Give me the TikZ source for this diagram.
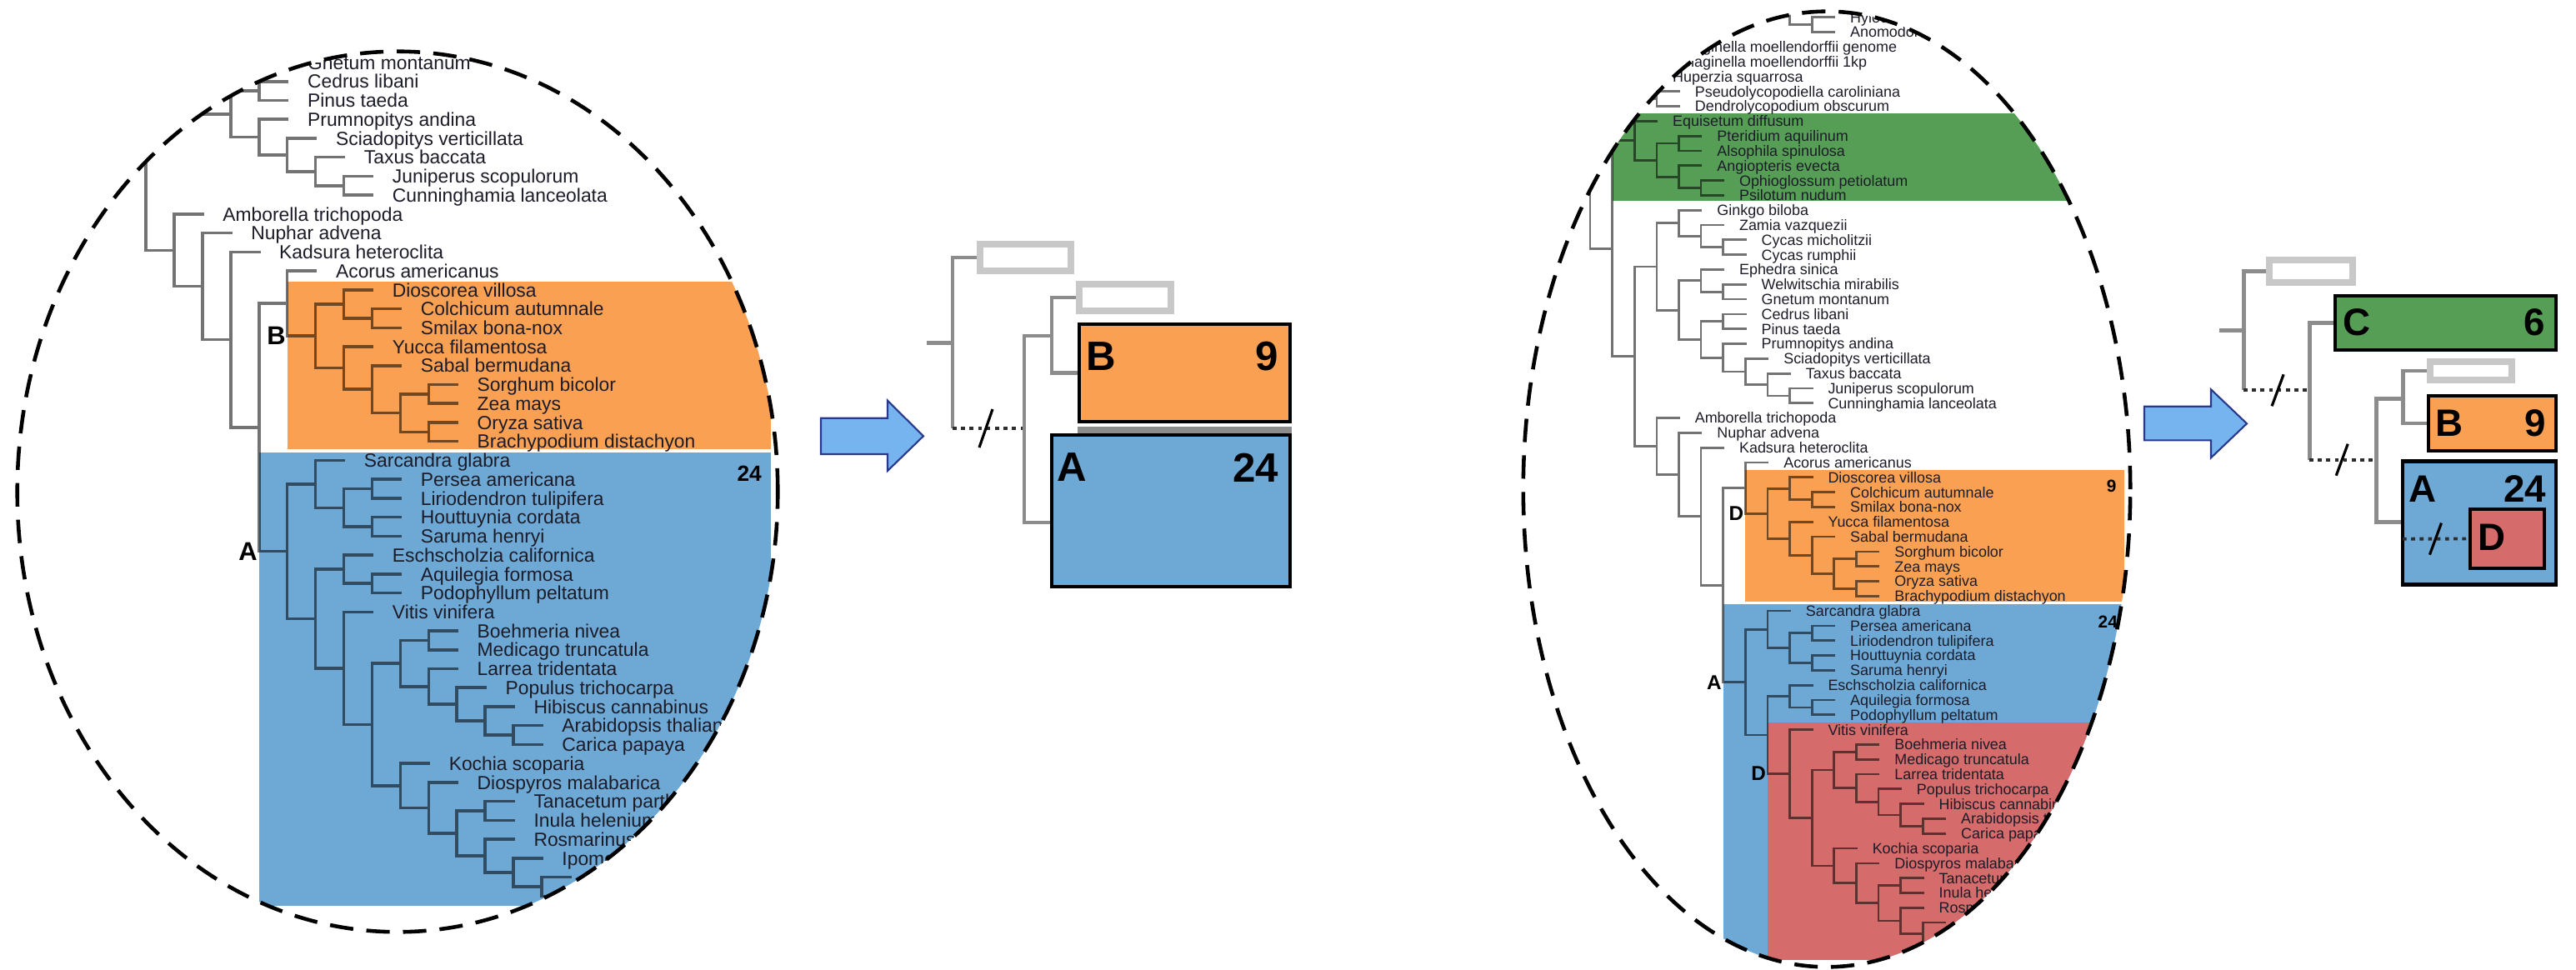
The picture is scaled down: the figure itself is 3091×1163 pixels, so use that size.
\documentclass[tikz,border=0pt]{standalone}
\usepackage{fontspec}
\setmainfont{Liberation Sans}
\usetikzlibrary{calc,backgrounds}
\definecolor{cOr}{RGB}{250,160,82}
\definecolor{cBl}{RGB}{110,168,213}
\definecolor{cGr}{RGB}{86,158,86}
\definecolor{cRd}{RGB}{213,107,107}
\definecolor{cAr}{RGB}{117,180,238}
\definecolor{cArB}{RGB}{40,56,140}
\definecolor{cGy}{RGB}{140,140,140}
\definecolor{cLg}{RGB}{200,200,200}
\definecolor{cTx}{RGB}{28,28,40}
\definecolor{cDk}{RGB}{45,45,45}

\newcommand\treelines{%
\path[br] foreach \kp/\j in {10/0,10/1,2/2,2/3,2/4,3/5,3/6,2/7,4/8,4/9,4/10,5/11,5/12,4/13,5/14,6/15,6/16,5/17,6/18,6/19,6/20,6/21,6/22,7/23,8/24,9/25,9/26,3/27,4/28,5/29,7/30,9/31,10/32,10/33,9/34,10/35,12/36,12/37,12/38,12/39,8/40,10/41,10/42,10/43,10/44,9/45,10/46,10/47,9/48,12/49,12/50,12/51,13/52,14/53,15/54,15/55,11/56,12/57,14/58,14/59,14/60,15/61,16/62,16/63} {(\kp,\j) -- ++(1,0)}
 foreach \k/\t/\u in {10/0/1,9/-1.5/0.5,3/5/6,2/4/5.5,2/2/3,1/2.5/4.75,0/3.625/15.5844,5/11/12,4/10/11.5,4/8/9,3/8.5/10.75,2/7/9.625,1/8.3125/22.8562,6/15/16,5/14/15.5,4/13/14.75,6/18/19,5/17/18.5,6/20/21,9/25/26,8/24/25.5,7/23/24.75,6/22/23.875,5/20.5/22.9375,4/17.75/21.71875,3/13.875/19.7344,2/16.8047/28.9078,10/32/33,9/31/32.5,12/36/37,12/38/39,11/36.5/38.5,10/35/37.5,9/34/36.25,8/31.75/35.125,7/30/33.4375,10/41/42,10/43/44,9/41.5/43.5,8/40/42.5,10/46/47,9/45/46.5,12/49/50,15/54/55,14/53/54.5,13/52/53.75,12/51/52.875,11/49.5/51.9375,14/58/59,16/62/63,15/61/62.5,14/60/61.75,13/58.5/60.875,12/57/59.6875,11/56/58.34375,10/50.71875/57.171875,9/48/53.9453,8/45.75/50.9727,7/41.25/48.3613,6/31.71875/44.8057,5/29/38.2622,4/28/33.6311,3/27/30.8156}
 {(\k,\t) -- (\k,\u) (\k-1,{(\t+\u)/2}) -- (\k,{(\t+\u)/2})};
}

\newcommand\treelabels[3]{%
\foreach \kp/\j/\nm in {10/0/Hylocomium splendens,10/1/Anomodon attenuatus,2/2/Selaginella moellendorffii genome,2/3/Selaginella moellendorffii 1kp,2/4/Huperzia squarrosa,3/5/Pseudolycopodiella caroliniana,3/6/Dendrolycopodium obscurum,2/7/Equisetum diffusum,4/8/Pteridium aquilinum,4/9/Alsophila spinulosa,4/10/Angiopteris evecta,5/11/Ophioglossum petiolatum,5/12/Psilotum nudum,4/13/Ginkgo biloba,5/14/Zamia vazquezii,6/15/Cycas micholitzii,6/16/Cycas rumphii,5/17/Ephedra sinica,6/18/Welwitschia mirabilis,6/19/Gnetum montanum,6/20/Cedrus libani,6/21/Pinus taeda,6/22/Prumnopitys andina,7/23/Sciadopitys verticillata,8/24/Taxus baccata,9/25/Juniperus scopulorum,9/26/Cunninghamia lanceolata,3/27/Amborella trichopoda,4/28/Nuphar advena,5/29/Kadsura heteroclita,7/30/Acorus americanus,9/31/Dioscorea villosa,10/32/Colchicum autumnale,10/33/Smilax bona-nox,9/34/Yucca filamentosa,10/35/Sabal bermudana,12/36/Sorghum bicolor,12/37/Zea mays,12/38/Oryza sativa,12/39/Brachypodium distachyon,8/40/Sarcandra glabra,10/41/Persea americana,10/42/Liriodendron tulipifera,10/43/Houttuynia cordata,10/44/Saruma henryi,9/45/Eschscholzia californica,10/46/Aquilegia formosa,10/47/Podophyllum peltatum,9/48/Vitis vinifera,12/49/Boehmeria nivea,12/50/Medicago truncatula,12/51/Larrea tridentata,13/52/Populus trichocarpa,14/53/Hibiscus cannabinus,15/54/Arabidopsis thaliana,15/55/Carica papaya,11/56/Kochia scoparia,12/57/Diospyros malabarica,14/58/Tanacetum parthenium,14/59/Inula helenium,14/60/Rosmarinus officinalis,15/61/Ipomoea purpurea}
{\ifnum\j<#2\relax\else\ifnum\j>#3\relax\else
 \node[leaf] (#1\j) at (\kp+1.7,\j+0.36) {\nm};\fi\fi}%
}

\begin{document}
\begin{tikzpicture}[x=0.01cm, y=-0.01cm, line join=miter,
  br/.style={draw=black, draw opacity=0.55, line cap=rect, line width=1pt},
  leaf/.style={anchor=base west, inner sep=0pt, text=cTx, font=\fontsize{6.5}{7.5}\selectfont},
  clade/.style={anchor=base east, inner sep=0.4pt, text=black, font=\fontsize{8.8}{10}\selectfont\bfseries},
  num/.style={anchor=base east, inner sep=0pt, text=black, font=\fontsize{7.5}{9}\selectfont\bfseries},
  ell/.style={draw=black, line width=1.3pt, dash pattern=on 8pt off 4.5pt},
  gline/.style={draw=cGy, line width=1.4pt},
  dline/.style={draw=cDk, line width=1.1pt, dash pattern=on 1.3pt off 1.6pt},
  sline/.style={draw=black, line width=0.9pt},
  cbox/.style={draw=black, line width=1.2pt, inner sep=0pt},
  gbox/.style={draw=cLg, fill=white, line width=2.4pt, inner sep=0pt},
  mlab/.style={inner sep=0pt, text=black, font=\fontsize{14}{16}\selectfont\bfseries},
  rlab/.style={inner sep=0pt, text=black, font=\fontsize{13}{15}\selectfont\bfseries},
  arr/.style={fill=cAr, draw=cArB, line width=0.6pt}]
\useasboundingbox (0,0) rectangle (3091,1163);

% ---------------- left ellipse ----------------
\begin{scope}
  \clip (477,590) ellipse [x radius=4.56cm, y radius=5.28cm];
  \begin{scope}[shift={(1.072cm,3.567cm)}, x=0.339cm, y=-0.2272cm]
    \fill[cOr] (7,30.55) rectangle (24.1,39.43);
    \fill[cBl] (6,39.58) rectangle (24.1,63.5);
    \treelines
    \treelabels{L}{19}{61}
    \node[clade] (LB) at (7,33.44+0.47) {B};
    \node[clade] (LA) at (6,44.81+0.47) {A};
    \node[num] (L24) at (23.8,41.1) {24};
  \end{scope}
\end{scope}
\draw[ell] (477,590) ellipse [x radius=4.56cm, y radius=5.28cm];

% ---------------- right ellipse ----------------
\begin{scope}
  \clip (2192,587) ellipse [x radius=3.64cm, y radius=5.73cm];
  \begin{scope}[shift={(19.069cm,-0.207cm)}, x=0.266cm, y=-0.178cm,
     br/.append style={line width=0.78pt},
     leaf/.append style={font=\fontsize{5.1}{6}\selectfont},
     clade/.append style={font=\fontsize{6.9}{8}\selectfont\bfseries},
     num/.append style={font=\fontsize{5.9}{7}\selectfont\bfseries}]
    \fill[cGr] (1,6.45) rectangle (24.1,12.35);
    \fill[cOr] (7,30.5) rectangle (24.1,39.4);
    \fill[cBl] (6,39.55) rectangle (24.1,63.5);
    \fill[cRd] (8,47.5) rectangle (24.1,63.5);
    \treelines
    \treelabels{R}{0}{60}
    \node[clade] (RB) at (7,33.44+0.47) {D};
    \node[clade] (RA) at (6,44.81+0.47) {A};
    \node[clade] (RD) at (8,50.97+0.47) {D};
    \node[num] (R9) at (23.75,32.02) {9};
    \node[num] (R24) at (23.8,41.12) {24};
  \end{scope}
\end{scope}
\draw[ell] (2192,587) ellipse [x radius=3.64cm, y radius=5.73cm];

% ---------------- arrows ----------------
\path[arr] (985,501.7) -- (1065,501.7) -- (1065,480.7) -- (1108,523.3) -- (1065,565) -- (1065,545) -- (985,545) -- cycle;
\path[arr] (2573,487.7) -- (2653,487.7) -- (2653,467.3) -- (2696,508.3) -- (2653,549.3) -- (2653,528.3) -- (2573,528.3) -- cycle;

% ---------------- middle summary tree ----------------
\node[gbox, minimum width=1.085cm, minimum height=0.315cm] (m1) at (1230.5,309) {};
\node[gbox, minimum width=1.095cm, minimum height=0.315cm] (m2) at (1350,357) {};
\node[cbox, fill=cOr, minimum width=2.53cm, minimum height=1.17cm] (mB) at (1421.5,447.5) {};
\fill[cGy] (1293,512) rectangle (1550,520);
\node[cbox, fill=cBl, minimum width=2.86cm, minimum height=1.82cm] (mA) at (1405,613) {};
\node[mlab, anchor=west] (mBt) at (1303,428) {B};
\node[mlab, anchor=east] (mBn) at (1535,428) {9};
\node[mlab, anchor=west] (mAt) at (1268,561) {A};
\node[mlab, anchor=east] (mAn) at (1535,561) {24};
\coordinate (ma0) at (1112,411.7);
\coordinate (ma1) at (1143,411.7);
\coordinate (ma2) at (ma1 |- m1.west);
\coordinate (ma3) at (1143,514);
\coordinate (mb1) at (1229,514);
\coordinate (mb2) at (1229,403);
\coordinate (mb3) at (1229,627);
\coordinate (mc1) at (1262,403);
\coordinate (mc2) at (mc1 |- m2.west);
\coordinate (mc3) at (mc1 |- mB.west);
\begin{pgfonlayer}{background}
  \draw[gline] (ma0) -- (ma1);
  \draw[gline] (m1.west) -- (ma2) -- (ma3);
  \draw[dline] (ma3) -- (mb1);
  \draw[gline] (mc1) -- (mb2) -- (mb3) -- (mA.west |- mb3);
  \draw[gline] (m2.west) -- (mc2) -- (mc3) -- (mB.west);
\end{pgfonlayer}
\draw[sline] ($(ma3)!0.465!(mb1)$) +(-8,23) -- +(8,-23);

% ---------------- right summary tree ----------------
\node[gbox, minimum width=0.995cm, minimum height=0.265cm] (r1) at (2773,325.5) {};
\node[cbox, fill=cGr, minimum width=2.65cm, minimum height=0.65cm] (rC) at (2934.5,387.2) {};
\node[gbox, minimum width=0.975cm, minimum height=0.215cm] (r2) at (2965,445) {};
\node[cbox, fill=cOr, minimum width=1.53cm, minimum height=0.655cm] (rB) at (2990.5,508) {};
\node[cbox, fill=cBl, minimum width=1.84cm, minimum height=1.48cm] (rA) at (2975,627.5) {};
\coordinate (re1) at (2883,646.7);
\node[cbox, fill=cRd, minimum width=0.89cm, minimum height=0.71cm] (rD) at (3008.5,646.5) {};
\draw[dline] (re1) -- (rD.west);
\draw[sline] ($(re1)!0.5!(rD.west)$) +(-7,19) -- +(7,-19);
\node[rlab, anchor=west] (rCt) at (2811,387) {C};
\node[rlab, anchor=east] (rCn) at (3055,387) {6};
\node[rlab, anchor=west] (rBt) at (2922,508) {B};
\node[rlab, anchor=east] (rBn) at (3056,508) {9};
\node[rlab, anchor=west] (rAt) at (2890,586.5) {A};
\node[rlab, anchor=east] (rAn) at (3056,586.5) {24};
\node[rlab, anchor=west] (rDt) at (2973,645) {D};
\coordinate (ra0) at (2663,396.7);
\coordinate (ra1) at (2692,396.7);
\coordinate (ra2) at (ra1 |- r1.west);
\coordinate (ra3) at (2692,468.3);
\coordinate (rb1) at (2771,468.3);
\coordinate (rb2) at (rb1 |- rC.west);
\coordinate (rb3) at (2771,551.7);
\coordinate (rc1) at (2851,551.7);
\coordinate (rc2) at (2851,478.3);
\coordinate (rc3) at (2851,626.7);
\coordinate (rd1) at (2883,478.3);
\coordinate (rd2) at (rd1 |- r2.west);
\coordinate (rd3) at (rd1 |- rB.west);
\begin{pgfonlayer}{background}
  \draw[gline] (ra0) -- (ra1);
  \draw[gline] (r1.west) -- (ra2) -- (ra3);
  \draw[dline] (ra3) -- (rb1);
  \draw[gline] (rC.west) -- (rb2) -- (rb3);
  \draw[dline] (rb3) -- (rc1);
  \draw[gline] (rd1) -- (rc2) -- (rc3) -- (rA.west |- rc3);
  \draw[gline] (r2.west) -- (rd2) -- (rd3) -- (rB.west);
\end{pgfonlayer}
\draw[sline] ($(ra3)!0.52!(rb1)$) +(-7,19) -- +(7,-19);
\draw[sline] ($(rb3)!0.49!(rc1)$) +(-7,19) -- +(7,-19);
\end{tikzpicture}
\end{document}
